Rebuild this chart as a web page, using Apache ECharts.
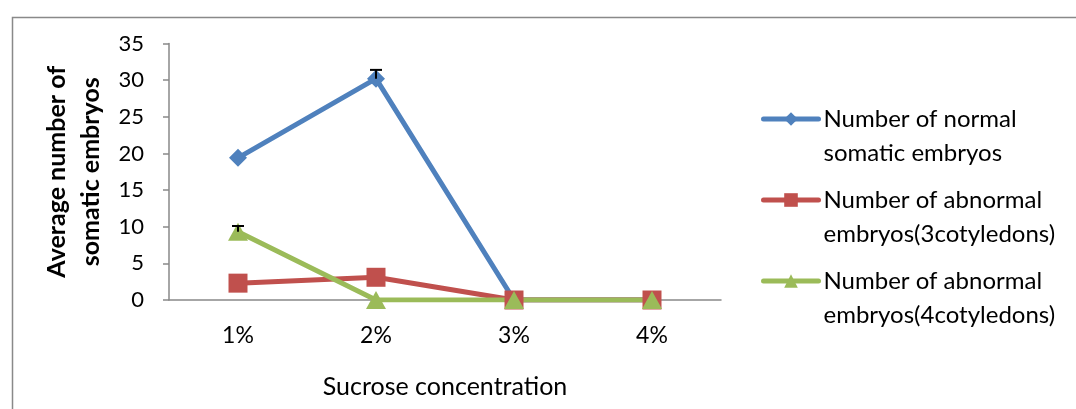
<!DOCTYPE html>
<html><head><meta charset="utf-8">
<script src="https://cdn.jsdelivr.net/npm/echarts@6/dist/echarts.min.js"></script>
<style>html,body{margin:0;padding:0;background:#fff}#c{width:1076px;height:409px}</style>
</head><body><div id="c"></div>
<script>
const categories = ['1%', '2%', '3%', '4%'];
const normalEmbryos = [19.4, 30.2, 0, 0];
const abnormal3 = [2.3, 3.1, 0, 0];
const abnormal4 = [9.3, 0, 0, 0];
const normalErr = [0, 1.2, 0, 0];
const abnormal4Err = [0.8, 0, 0, 0];
const seriesNames = ['Number of normal\nsomatic embryos', 'Number of abnormal\nembryos(3cotyledons)', 'Number of abnormal\nembryos(4cotyledons)'];
const yTicks = { min: 0, max: 35, interval: 5 };

const FONT = 'Lato';
const AXIS = '#898989';
const colors = ['#4F81BD', '#C0504D', '#9BBB59'];

function errData(vals, errs) {
  return vals.map((v, i) => [i, v, errs[i]]).filter(d => d[2] > 0);
}
function errRender(params, api) {
  const x = api.value(0), v = api.value(1), e = api.value(2);
  const p0 = api.coord([x, v]);
  const p1 = api.coord([x, v + e]);
  const style = { stroke: '#000', lineWidth: 2 };
  return { type: 'group', children: [
    { type: 'line', shape: { x1: p0[0], y1: p0[1], x2: p1[0], y2: p1[1] }, style },
    { type: 'line', shape: { x1: p1[0] - 6, y1: p1[1], x2: p1[0] + 6, y2: p1[1] }, style }
  ]};
}

const chart = echarts.init(document.getElementById('c'));
const lineSeries = (name, data, color, symbol, size) => ({
  type: 'line', name, data, symbol, symbolSize: size,
  lineStyle: { color, width: 5 }, itemStyle: { color },
  xAxisIndex: 0, animation: false, z: 3
});
chart.setOption({
  animation: false,
  textStyle: { fontFamily: FONT },
  graphic: [{ type: 'rect', left: 10, top: 15, shape: { width: 1100, height: 500 },
    style: { fill: 'none', stroke: AXIS, lineWidth: 1.5 }, z: -1 }],
  grid: { left: 169, right: 355, top: 43.5, bottom: 109 },
  legend: {
    orient: 'vertical', left: 756, top: 63, itemGap: -21, padding: 5,
    itemWidth: 55, itemHeight: 17,
    data: seriesNames,
    formatter: n => ' \n' + n,
    lineStyle: { width: 5, cap: 'round' },
    textStyle: { fontFamily: FONT, fontSize: 24, color: '#000', lineHeight: 34 }
  },
  xAxis: [{
    type: 'category', data: categories, boundaryGap: true,
    axisLine: { lineStyle: { color: AXIS, width: 1.5 } },
    axisTick: { length: 51, lineStyle: { color: AXIS, width: 1.5 } },
    axisLabel: { fontFamily: FONT, fontSize: 23, color: '#000', margin: 24 },
    name: 'Sucrose concentration', nameLocation: 'middle', nameGap: 74,
    nameTextStyle: { fontFamily: FONT, fontSize: 25, color: '#000' }
  }, {
    type: 'category', data: [''], position: 'bottom', boundaryGap: true,
    axisLine: { show: false },
    axisTick: { length: 109, lineStyle: { color: AXIS, width: 1.5 } },
    axisLabel: { show: false }
  }],
  yAxis: {
    type: 'value', min: yTicks.min, max: yTicks.max, interval: yTicks.interval,
    axisLine: { show: true, lineStyle: { color: AXIS, width: 1.5 } },
    axisTick: { show: true, length: 6, lineStyle: { color: AXIS, width: 1.5 } },
    splitLine: { show: false },
    axisLabel: { fontFamily: FONT, fontSize: 22, color: '#000', margin: 25 },
    name: 'Average number of\nsomatic embryos', nameLocation: 'middle', nameGap: 48, nameRotate: 90,
    nameTextStyle: { fontFamily: FONT, fontSize: 25, fontWeight: 'bold', color: '#000', lineHeight: 34 }
  },
  series: [
    lineSeries(seriesNames[0], normalEmbryos, colors[0], 'diamond', 18),
    lineSeries(seriesNames[1], abnormal3, colors[1], 'rect', 19),
    lineSeries(seriesNames[2], abnormal4, colors[2], 'triangle', [20, 18]),
    { type: 'custom', data: errData(normalEmbryos, normalErr), renderItem: errRender, z: 5, silent: true },
    { type: 'custom', data: errData(abnormal4, abnormal4Err), renderItem: errRender, z: 5, silent: true }
  ]
});
</script></body></html>
